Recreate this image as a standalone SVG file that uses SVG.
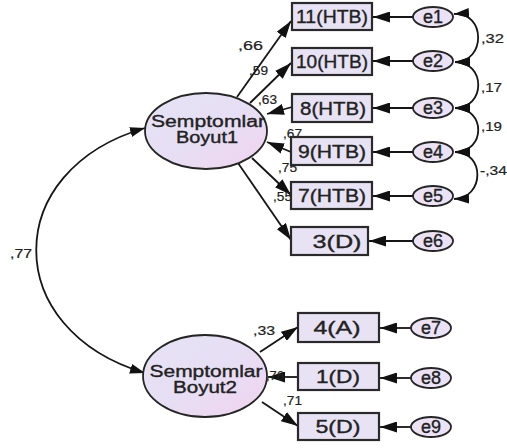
<svg xmlns="http://www.w3.org/2000/svg" width="507" height="448" viewBox="0 0 507 448">
  <style>
    .box { fill: #e8e3f4; stroke: #2a2a2a; stroke-width: 2.2; }
    .lat { fill: url(#latFill); stroke: #252525; stroke-width: 1.8; }
    .err { fill: #ebe2f5; stroke: #252525; stroke-width: 1.8; }
    .t { font-family: "Liberation Sans", Arial, sans-serif; fill: #222; stroke: #222; stroke-width: 0.35; }
    .bt { font-size: 18px; text-anchor: middle; }
    .lt { font-size: 16px; text-anchor: middle; }
    .et { font-size: 18px; text-anchor: middle; }
    .lab { font-size: 13px; stroke-width: 0.2; }
    .arr { fill: none; stroke: #151515; stroke-width: 1.8; marker-end: url(#head); }
    .cov { fill: none; stroke: #151515; stroke-width: 1.8; marker-start: url(#head2); marker-end: url(#head2); }
  </style>
  <defs>
    <linearGradient id="latFill" x1="0" y1="0" x2="1" y2="1">
      <stop offset="0" stop-color="#e5e3f6"/>
      <stop offset="0.55" stop-color="#e7def4"/>
      <stop offset="1" stop-color="#f2d2ee"/>
    </linearGradient>
    <marker id="head" markerUnits="userSpaceOnUse" markerWidth="17" markerHeight="11" viewBox="0 0 17 11" refX="17" refY="5.5" orient="auto">
      <path d="M0,0 L17,5.5 L0,11 z" fill="#111"/>
    </marker>
    <marker id="head2" markerUnits="userSpaceOnUse" markerWidth="15" markerHeight="10" viewBox="0 0 15 10" refX="15" refY="5" orient="auto-start-reverse">
      <path d="M0,0 L15,5 L0,10 z" fill="#111"/>
    </marker>
  </defs>

  <!-- connectors -->
  <g id="connectors">
    <!-- factor covariance -->
    <path class="cov" d="M145,128 C0,170 0,330 145,373"/>
    <!-- loadings, factor 1 -->
    <path class="arr" d="M237,97 L291,21"/>
    <path class="arr" d="M250,103 L291,63"/>
    <path class="arr" d="M292,107 L267,114"/>
    <path class="arr" d="M291,152 L267,142"/>
    <path class="arr" d="M252,158 L291,195"/>
    <path class="arr" d="M238,163 L291,240"/>
    <!-- loadings, factor 2 -->
    <path class="arr" d="M260,352 L298,327"/>
    <path class="arr" d="M298,377 L268,377"/>
    <path class="arr" d="M262,402 L298,426"/>
    <!-- error terms -->
    <path class="arr" d="M413,17 L373,17"/>
    <path class="arr" d="M413,61 L373,61"/>
    <path class="arr" d="M413,108 L373,108"/>
    <path class="arr" d="M413,152 L373,152"/>
    <path class="arr" d="M413,196 L373,196"/>
    <path class="arr" d="M413,241 L369,241"/>
    <path class="arr" d="M411,328 L380,328"/>
    <path class="arr" d="M411,378 L380,378"/>
    <path class="arr" d="M411,427 L380,427"/>
    <!-- error covariances -->
    <path class="cov" d="M454,14 C486,12 486,62 455,62"/>
    <path class="cov" d="M455,62 C486,62 486,108 455,108"/>
    <path class="cov" d="M455,108 C486,108 486,152 455,152"/>
    <path class="cov" d="M455,152 C485,152 485,198 454,199"/>
  </g>

  <!-- coefficient labels -->
  <g id="labels" class="t lab">
    <text x="238" y="50" textLength="25" lengthAdjust="spacingAndGlyphs">,66</text>
    <text x="249" y="75" textLength="19" lengthAdjust="spacingAndGlyphs">,59</text>
    <text x="258" y="104" textLength="19" lengthAdjust="spacingAndGlyphs">,63</text>
    <text x="283" y="138" textLength="19" lengthAdjust="spacingAndGlyphs">,67</text>
    <text x="278" y="172" textLength="19" lengthAdjust="spacingAndGlyphs">,75</text>
    <text x="273" y="201" textLength="19" lengthAdjust="spacingAndGlyphs">,55</text>
    <text x="481" y="43" textLength="23" lengthAdjust="spacingAndGlyphs">,32</text>
    <text x="481" y="92" textLength="21" lengthAdjust="spacingAndGlyphs">,17</text>
    <text x="481" y="131" textLength="21" lengthAdjust="spacingAndGlyphs">,19</text>
    <text x="480" y="175" textLength="27" lengthAdjust="spacingAndGlyphs">-,34</text>
    <text x="10" y="258" textLength="22" lengthAdjust="spacingAndGlyphs">,77</text>
    <text x="253" y="335" textLength="22" lengthAdjust="spacingAndGlyphs">,33</text>
    <text x="266" y="380" textLength="18" lengthAdjust="spacingAndGlyphs">,76</text>
    <text x="283" y="405" textLength="19" lengthAdjust="spacingAndGlyphs">,71</text>
  </g>

  <!-- latent factors -->
  <g id="boyut1">
    <ellipse class="lat" cx="206" cy="131" rx="61" ry="38"/>
    <text class="t lt" x="208" y="127" textLength="114" lengthAdjust="spacingAndGlyphs">Semptomlar</text>
    <text class="t lt" x="207" y="143" textLength="62" lengthAdjust="spacingAndGlyphs">Boyut1</text>
  </g>
  <g id="boyut2">
    <ellipse class="lat" cx="205" cy="376" rx="62" ry="41"/>
    <text class="t lt" x="206" y="377" textLength="113" lengthAdjust="spacingAndGlyphs">Semptomlar</text>
    <text class="t lt" x="205" y="393" textLength="64" lengthAdjust="spacingAndGlyphs">Boyut2</text>
  </g>

  <!-- observed indicators -->
  <g id="i11"><rect class="box" x="292" y="3" width="80" height="27"/><text class="t bt" x="332" y="23" textLength="72" lengthAdjust="spacingAndGlyphs">11(HTB)</text></g>
  <g id="i10"><rect class="box" x="292" y="48" width="80" height="27"/><text class="t bt" x="332" y="68" textLength="72" lengthAdjust="spacingAndGlyphs">10(HTB)</text></g>
  <g id="i8"><rect class="box" x="292" y="94" width="80" height="28"/><text class="t bt" x="333" y="115" textLength="66" lengthAdjust="spacingAndGlyphs">8(HTB)</text></g>
  <g id="i9"><rect class="box" x="291" y="137" width="81" height="28"/><text class="t bt" x="332" y="158" textLength="68" lengthAdjust="spacingAndGlyphs">9(HTB)</text></g>
  <g id="i7"><rect class="box" x="291" y="182" width="81" height="27"/><text class="t bt" x="332" y="202" textLength="68" lengthAdjust="spacingAndGlyphs">7(HTB)</text></g>
  <g id="i3"><rect class="box" x="291" y="227" width="77" height="28"/><text class="t bt" x="337" y="248" textLength="49" lengthAdjust="spacingAndGlyphs">3(D)</text></g>
  <g id="i4"><rect class="box" x="298" y="313" width="81" height="29"/><text class="t bt" x="337" y="334" textLength="47" lengthAdjust="spacingAndGlyphs">4(A)</text></g>
  <g id="i1"><rect class="box" x="298" y="363" width="81" height="27"/><text class="t bt" x="338" y="383" textLength="44" lengthAdjust="spacingAndGlyphs">1(D)</text></g>
  <g id="i5"><rect class="box" x="298" y="413" width="81" height="27"/><text class="t bt" x="338" y="433" textLength="45" lengthAdjust="spacingAndGlyphs">5(D)</text></g>

  <!-- error terms -->
  <g id="e1"><ellipse class="err" cx="433" cy="17" rx="20" ry="10"/><text class="t et" x="433" y="23">e1</text></g>
  <g id="e2"><ellipse class="err" cx="433" cy="61" rx="20" ry="10"/><text class="t et" x="433" y="67">e2</text></g>
  <g id="e3"><ellipse class="err" cx="433" cy="108" rx="20" ry="10"/><text class="t et" x="433" y="114">e3</text></g>
  <g id="e4"><ellipse class="err" cx="433" cy="152" rx="20" ry="10"/><text class="t et" x="433" y="158">e4</text></g>
  <g id="e5"><ellipse class="err" cx="433" cy="196" rx="20" ry="10"/><text class="t et" x="433" y="202">e5</text></g>
  <g id="e6"><ellipse class="err" cx="433" cy="241" rx="20" ry="10"/><text class="t et" x="433" y="247">e6</text></g>
  <g id="e7"><ellipse class="err" cx="431" cy="328" rx="20" ry="10"/><text class="t et" x="431" y="334">e7</text></g>
  <g id="e8"><ellipse class="err" cx="431" cy="378" rx="20" ry="10"/><text class="t et" x="431" y="384">e8</text></g>
  <g id="e9"><ellipse class="err" cx="431" cy="427" rx="20" ry="10"/><text class="t et" x="431" y="433">e9</text></g>
</svg>
